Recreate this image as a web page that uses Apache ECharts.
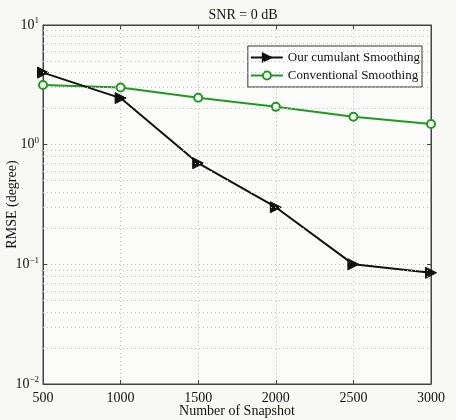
<!DOCTYPE html>
<html>
<head>
<meta charset="utf-8">
<script src="https://cdn.jsdelivr.net/npm/echarts@6/dist/echarts.min.js"></script>
<style>
  html, body { margin: 0; padding: 0; background: #f8f8f5; }
  #chart { width: 456px; height: 420px; }
</style>
</head>
<body>
<div id="chart"></div>
<script>
// snapshots on the x axis
const snapshots = [500, 1000, 1500, 2000, 2500, 3000]
// RMSE values (degree)
const cumulantRmse = [4.0, 2.45, 0.70, 0.30, 0.10, 0.085]
const conventionalRmse = [3.15, 3.0, 2.47, 2.07, 1.71, 1.49]
// minor grid lines of the log axis (2..9 of each decade)
const minorLevels = [
  0.02, 0.03, 0.04, 0.05, 0.06, 0.07, 0.08, 0.09,
  0.2, 0.3, 0.4, 0.5, 0.6, 0.7, 0.8, 0.9,
  2, 3, 4, 5, 6, 7, 8, 9
]

const font = 'Liberation Serif'
const supMap = { '1': '1', '0': '0', '-1': '\u22121', '-2': '\u22122' }

let chart = echarts.init(document.getElementById('chart'))
chart.setOption({
  backgroundColor: '#f8f8f5',
  animation: false,
  title: {
    text: 'SNR = 0 dB',
    left: 238,
    top: 3,
    textAlign: 'center',
    textStyle: { fontFamily: font, fontSize: 14, fontWeight: 'normal', color: '#111' },
  },
  legend: {
    orient: 'vertical',
    right: 34,
    top: 46,
    backgroundColor: '#fff',
    borderColor: '#333',
    borderWidth: 1,
    padding: [5, 2, 5, 2],
    itemGap: 5,
    itemWidth: 32,
    itemHeight: 10,
    textStyle: { fontFamily: font, fontSize: 13, color: '#111' },
    data: ['Our cumulant Smoothing', 'Conventional Smoothing'],
  },
  grid: {
    left: 43, right: 25, top: 25, bottom: 36,
    containLabel: false,
    outerBoundsMode: 'none',
    show: true, borderColor: '#444', borderWidth: 1, backgroundColor: '#fbfbf9',
  },
  xAxis: [
    {
      type: 'value',
      min: 500,
      max: 3000,
      interval: 500,
      name: 'Number of Snapshot',
      nameLocation: 'middle',
      nameGap: 20,
      nameMoveOverlap: false,
      nameTextStyle: { fontFamily: font, fontSize: 14, color: '#111' },
      axisLine: { lineStyle: { color: '#444' } },
      axisTick: { inside: true, length: 4, lineStyle: { color: '#444' } },
      axisLabel: { fontFamily: font, fontSize: 14, color: '#111', margin: 7, formatter: (v) => String(v) },
      splitLine: { show: true, lineStyle: { color: '#bbb', type: [1, 3] } },
    },
    {
      type: 'value',
      position: 'top',
      min: 500,
      max: 3000,
      interval: 500,
      axisLine: { lineStyle: { color: '#444' } },
      axisTick: { inside: true, length: 4, lineStyle: { color: '#444' } },
      axisLabel: { show: false },
      splitLine: { show: false },
    },
  ],
  yAxis: [
    {
      type: 'log',
      logBase: 10,
      min: 0.01,
      max: 10,
      name: 'RMSE (degree)',
      nameLocation: 'middle',
      nameGap: 24,
      nameMoveOverlap: false,
      nameTextStyle: { fontFamily: font, fontSize: 14, color: '#111' },
      axisLine: { lineStyle: { color: '#444' } },
      axisTick: { inside: true, length: 4, lineStyle: { color: '#444' } },
      axisLabel: {
        fontFamily: font,
        fontSize: 14,
        color: '#111',
        margin: 4,
        formatter: function (v) {
          const e = String(Math.round(Math.log10(v)))
          return '10{sup|' + (supMap[e] || e) + '}'
        },
        rich: {
          sup: { fontFamily: font, fontSize: 9, color: '#111', verticalAlign: 'top', padding: [0, 0, 8, 0] },
        },
      },
      splitLine: { show: true, lineStyle: { color: '#bbb', type: [1, 3] } },
    },
    {
      type: 'log',
      logBase: 10,
      min: 0.01,
      max: 10,
      position: 'right',
      axisLine: { lineStyle: { color: '#444' } },
      axisTick: { inside: true, length: 4, lineStyle: { color: '#444' } },
      axisLabel: { show: false },
      splitLine: { show: false },
    },
  ],
  series: [
    {
      name: 'minor grid',
      type: 'line',
      data: [],
      silent: true,
      markLine: {
        silent: true,
        symbol: 'none',
        label: { show: false },
        lineStyle: { color: '#c4c4c4', type: [1, 3], width: 1 },
        data: minorLevels.map((v) => ({ yAxis: v })),
      },
    },
    {
      name: 'Conventional Smoothing',
      type: 'line',
      data: snapshots.map((x, i) => [x, conventionalRmse[i]]),
      symbol: 'emptyCircle',
      symbolSize: 8,
      lineStyle: { color: '#1f9a1f', width: 2 },
      itemStyle: { color: '#1f9a1f', borderColor: '#1f9a1f', borderWidth: 2 },
      z: 3,
    },
    {
      name: 'Our cumulant Smoothing',
      type: 'line',
      data: snapshots.map((x, i) => [x, cumulantRmse[i]]),
      symbol: 'triangle',
      symbolRotate: -90,
      symbolSize: 11,
      lineStyle: { color: '#111', width: 2 },
      itemStyle: { color: '#111', borderColor: '#111', borderWidth: 1 },
      z: 4,
    },
  ],
})
</script>
</body>
</html>
